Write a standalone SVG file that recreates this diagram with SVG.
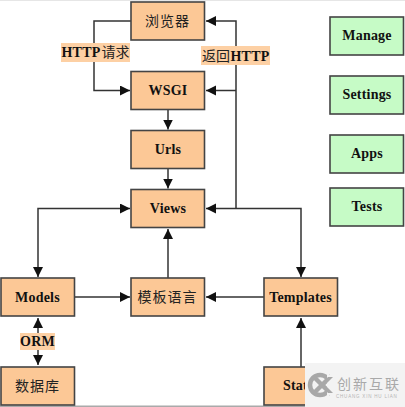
<svg xmlns="http://www.w3.org/2000/svg" width="405" height="407" viewBox="0 0 405 407">
<style>
.n{fill:#fcc896;stroke:#444;stroke-width:1.6}
.g{fill:#c6fbc6;stroke:#444;stroke-width:1.6}
.t{font-family:"Liberation Serif","Noto Sans CJK SC",serif;font-size:14px;font-weight:bold;fill:#111;text-anchor:middle;letter-spacing:.2px}
.c{font-family:"Noto Sans CJK SC",serif;font-size:14px;fill:#222;text-anchor:middle;letter-spacing:1px}
.l{fill:none;stroke:#333;stroke-width:1.5}
.lb{fill:#fdd0a4}
</style>
<defs>
<marker id="a" markerUnits="userSpaceOnUse" markerWidth="11" markerHeight="11" refX="10" refY="5" orient="auto-start-reverse"><path d="M0 0L10 5L0 10Z" fill="#111"/></marker>
</defs>
<rect width="405" height="407" fill="#fff"/>
<rect width="405" height="1" fill="#e6e6e6"/>
<rect y="405.500" width="305" height="1.500" fill="#aaa"/>
<g id="connectors">
<path class="l" d="M131 21H94V90.500H130" marker-end="url(#a)"/>
<path class="l" d="M236 208.500V21H206" marker-end="url(#a)"/>
<path class="l" d="M236 90.500H206" marker-end="url(#a)"/>
<path class="l" d="M168 109.500V129.500" marker-end="url(#a)"/>
<path class="l" d="M168 168.500V188.500" marker-end="url(#a)"/>
<path class="l" d="M130 208.500H38V277" marker-start="url(#a)" marker-end="url(#a)"/>
<path class="l" d="M206 208.500H301V277" marker-start="url(#a)" marker-end="url(#a)"/>
<path class="l" d="M168 278V229" marker-end="url(#a)"/>
<path class="l" d="M75 297H130" marker-end="url(#a)"/>
<path class="l" d="M264 297H206" marker-end="url(#a)"/>
<path class="l" d="M38 318V365" marker-start="url(#a)" marker-end="url(#a)"/>
<path class="l" d="M301 367V318" marker-end="url(#a)"/>
</g>
<g id="label-http-request"><rect class="lb" x="61" y="43" width="69" height="19"/><text class="t" x="81" y="57">HTTP</text><text class="c" x="115.500" y="57" style="letter-spacing:0">请求</text></g>
<g id="label-http-return"><rect class="lb" x="201" y="46" width="69" height="19"/><text class="c" x="216" y="61" style="letter-spacing:0">返回</text><text class="t" x="250" y="61">HTTP</text></g>
<g id="label-orm"><rect class="lb" x="20" y="333" width="35" height="17"/><text class="t" x="37.500" y="346">ORM</text></g>
<g id="browser"><rect class="n" x="131" y="2" width="73.500" height="38"/><text class="c" x="167.500" y="26">浏览器</text></g>
<g id="wsgi"><rect class="n" x="131" y="71.500" width="73.500" height="38"/><text class="t" x="168" y="95">WSGI</text></g>
<g id="urls"><rect class="n" x="131" y="130.500" width="73.500" height="38"/><text class="t" x="168" y="154">Urls</text></g>
<g id="views"><rect class="n" x="131" y="189.500" width="73.500" height="38"/><text class="t" x="168" y="213">Views</text></g>
<g id="models"><rect class="n" x="1" y="278" width="73.500" height="38"/><text class="t" x="37.500" y="302">Models</text></g>
<g id="template-lang"><rect class="n" x="131" y="278" width="73.500" height="38"/><text class="c" x="167.500" y="302">模板语言</text></g>
<g id="templates"><rect class="n" x="264" y="278" width="73.500" height="38"/><text class="t" x="300.500" y="302">Templates</text></g>
<g id="database"><rect class="n" x="1" y="367" width="73.500" height="38"/><text class="c" x="37.500" y="391">数据库</text></g>
<g id="statics"><rect class="n" x="264" y="367" width="73.500" height="38"/><text class="t" x="283" y="390" style="text-anchor:start">Stat</text></g>
<g id="manage"><rect class="g" x="330" y="17" width="73.500" height="38"/><text class="t" x="367" y="40">Manage</text></g>
<g id="settings"><rect class="g" x="330" y="76" width="73.500" height="38"/><text class="t" x="367" y="99">Settings</text></g>
<g id="apps"><rect class="g" x="330" y="135" width="73.500" height="38"/><text class="t" x="367" y="158">Apps</text></g>
<g id="tests"><rect class="g" x="330" y="188" width="73.500" height="38"/><text class="t" x="367" y="211">Tests</text></g>
<g id="watermark">
<rect x="305" y="363" width="100" height="44" fill="#f3f3f3"/>
<circle cx="320" cy="385" r="10" fill="none" stroke="#a8a8a8" stroke-width="4.500"/>
<path d="M313 376L331 394M331 376L313 394" stroke="#a8a8a8" stroke-width="4.500" fill="none"/>
<path d="M327 375H337V395H327Z" fill="#f3f3f3"/>
<path d="M320 385L328 377H333L325 385L333 393H328Z" fill="#a8a8a8"/>
<text x="337" y="389" font-family="'Noto Sans CJK SC',sans-serif" font-size="14" fill="#a9a9a9" letter-spacing="2">创新互联</text>
<text x="336" y="398" font-family="'Liberation Sans',sans-serif" font-size="4.500" fill="#b5b5b5" letter-spacing=".8">CHUANG XIN HU LIAN</text>
</g>
</svg>
